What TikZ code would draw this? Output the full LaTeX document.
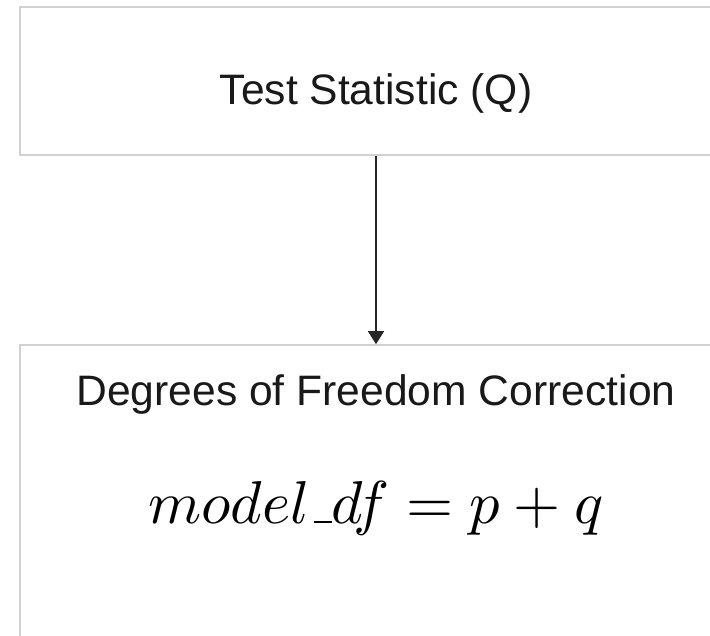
\documentclass[tikz,border=0pt]{standalone}
\usepackage{fontspec}
\setmainfont{Liberation Sans}
\usetikzlibrary{arrows.meta}
\newcommand{\lowbar}{\kern0.06em\vbox{\hrule width 0.3em}}
\begin{document}
\begin{tikzpicture}[x=1pt,y=-1pt,
  boxstyle/.style={draw=black!18,line width=1.6pt,fill=white,inner sep=0pt},
  labelstyle/.style={anchor=base,inner sep=0pt,text=black!90,font=\fontsize{42.6}{50}\selectfont},
  mathstyle/.style={anchor=base,inner sep=0pt},
  linkstyle/.style={draw=black!85,line width=1.3pt,-{Triangle[length=13pt,width=16pt]}}]
\useasboundingbox (0,0) rectangle (710,635);
\clip (0,0) rectangle (710,635);
\fill[white] (0,0) rectangle (710,635);
\node[boxstyle,minimum width=712pt,minimum height=148pt] (top) at (376,81) {};
\node[boxstyle,minimum width=712pt,minimum height=320pt] (bottom) at (376,505) {};
\node[labelstyle] (toptext) at (376,104) {Test Statistic (Q)};
\node[labelstyle] (bottomtext) at (376,405) {Degrees of Freedom Correction};
\node[mathstyle] (formula) at (376,523) {\scalebox{6.05}{$model\lowbar df = p + q$}};
\draw[linkstyle] (top.south) -- (bottom.north);
\end{tikzpicture}
\end{document}
